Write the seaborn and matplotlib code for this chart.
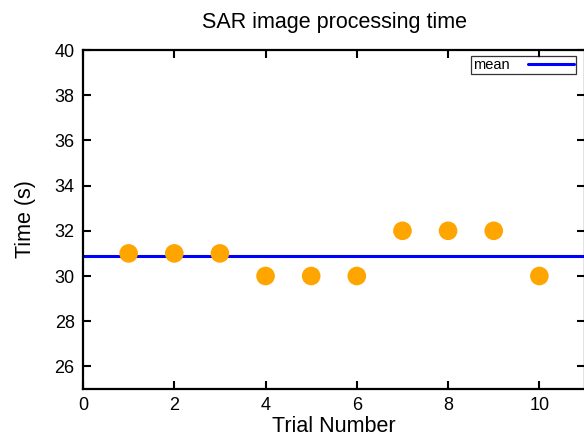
import numpy as np
import pandas as pd
import matplotlib
matplotlib.use("Agg")
import matplotlib.pyplot as plt
import seaborn as sns

trials = [1, 2, 3, 4, 5, 6, 7, 8, 9, 10]
times = [31, 31, 31, 30, 30, 30, 32, 32, 32, 30]
x_ticks = [0, 2, 4, 6, 8, 10]
y_ticks = [26, 28, 30, 32, 34, 36, 38, 40]

sns.set_theme(style="white")
plt.rcParams['font.family'] = ['Liberation Sans', 'DejaVu Sans']
plt.rcParams['text.color'] = 'black'
plt.rcParams['axes.labelcolor'] = 'black'

df = pd.DataFrame({"trial": trials, "time": times})
mean_val = float(np.mean(times))

fig = plt.figure(figsize=(5.84, 4.44), dpi=100)
ax = fig.add_axes([83/584, 55/444, 502/584, 339/444])

ax.axhline(mean_val, color="#0000ff", lw=2.2, label="mean", zorder=2)
sns.scatterplot(data=df, x="trial", y="time", ax=ax, color="#ffa500",
                s=180, edgecolor="none", zorder=3, legend=False)

ax.set_xlim(0, 11)
ax.set_ylim(25, 40)
ax.set_xticks(x_ticks)
ax.set_yticks(y_ticks)
ax.tick_params(direction="in", length=6, width=1.5, colors="black",
               labelsize=13, top=True, right=True, bottom=True, left=True,
               pad=6)
for sp in ax.spines.values():
    sp.set_visible(True)
    sp.set_color("black")
    sp.set_linewidth(1.6)

ax.set_xlabel("Trial Number", fontsize=15.5, labelpad=1, color="black")
ax.set_ylabel("Time (s)", fontsize=15.5, labelpad=13, color="black")
ax.set_title("SAR image processing time", fontsize=15.5, pad=16, color="black")

leg = ax.legend(loc="upper right", bbox_to_anchor=(0.983, 0.983),
                markerfirst=False, frameon=True, fancybox=False,
                fontsize=10.5, handlelength=3.2, borderpad=0.15,
                handletextpad=1.2, borderaxespad=0)
leg.get_frame().set_edgecolor("black")
leg.get_frame().set_linewidth(0.9)
for t in leg.get_texts():
    t.set_color("black")

fig.savefig("out.png", dpi=100)
